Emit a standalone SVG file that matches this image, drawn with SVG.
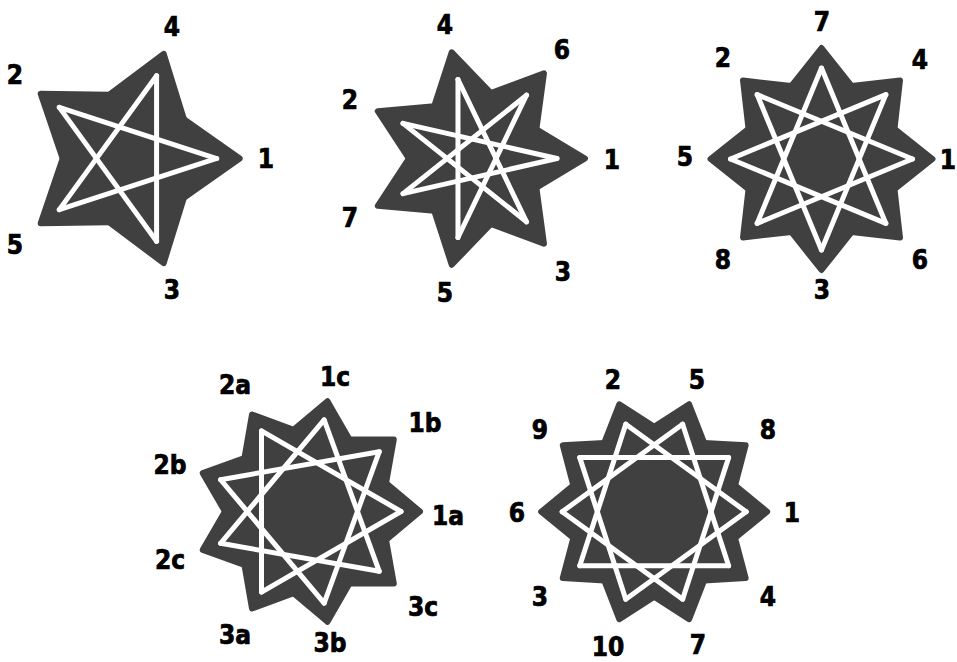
<svg xmlns="http://www.w3.org/2000/svg" xmlns:xlink="http://www.w3.org/1999/xlink" width="957" height="662" viewBox="0 0 957 662">
<style>
.dk{fill:#404040;stroke:#404040;stroke-width:6;stroke-linejoin:round}
.wl{stroke:#ffffff;stroke-width:5;stroke-linecap:round;fill:none}
.lb{font-family:"DejaVu Sans Condensed","DejaVu Sans",sans-serif;font-weight:bold;font-size:26px;fill:#000;stroke:#000;stroke-width:0.7;text-anchor:middle}
</style>
<defs>
<polygon id="k5" class="dk" points="0,0 54.2,-39.38 110,0 54.2,39.38"/>
<line id="c5" class="wl" x1="26.88" y1="-82.74" x2="26.88" y2="82.74"/>
<polygon id="k7" class="dk" points="0,0 60.37,-29.07 109,0 60.37,29.07"/>
<line id="c7" class="wl" x1="18.02" y1="-78.97" x2="18.02" y2="78.97"/>
<polygon id="k8" class="dk" points="0,0 72.99,-30.23 111,0 72.99,30.23"/>
<line id="c8" class="wl" x1="34.82" y1="-84.07" x2="34.82" y2="84.07"/>
<polygon id="k9" class="dk" points="0,0 78,-28.39 112,0 78,28.39"/>
<line id="c9" class="wl" x1="46.5" y1="-80.54" x2="46.5" y2="80.54"/>
<polygon id="k10" class="dk" points="0,0 80.84,-26.27 113,0 80.84,26.27"/>
<line id="c10" class="wl" x1="54.08" y1="-74.43" x2="54.08" y2="74.43"/>
</defs>

<g id="star5">
<g transform="translate(129.7,158.5)">
<use xlink:href="#k5"/><use xlink:href="#k5" transform="rotate(72)"/><use xlink:href="#k5" transform="rotate(144)"/><use xlink:href="#k5" transform="rotate(216)"/><use xlink:href="#k5" transform="rotate(288)"/>
<use xlink:href="#c5"/><use xlink:href="#c5" transform="rotate(72)"/><use xlink:href="#c5" transform="rotate(144)"/><use xlink:href="#c5" transform="rotate(216)"/><use xlink:href="#c5" transform="rotate(288)"/>
</g>
<text class="lb" x="172" y="36">4</text>
<text class="lb" x="15" y="84">2</text>
<text class="lb" x="266" y="168">1</text>
<text class="lb" x="15" y="254">5</text>
<text class="lb" x="172" y="299">3</text>
</g>

<g id="star7">
<g transform="translate(476,158.5)">
<use xlink:href="#k7"/><use xlink:href="#k7" transform="rotate(51.4286)"/><use xlink:href="#k7" transform="rotate(102.857)"/><use xlink:href="#k7" transform="rotate(154.286)"/><use xlink:href="#k7" transform="rotate(205.714)"/><use xlink:href="#k7" transform="rotate(257.143)"/><use xlink:href="#k7" transform="rotate(308.571)"/>
<use xlink:href="#c7" transform="rotate(25.714)"/><use xlink:href="#c7" transform="rotate(77.143)"/><use xlink:href="#c7" transform="rotate(128.571)"/><use xlink:href="#c7" transform="rotate(180)"/><use xlink:href="#c7" transform="rotate(231.429)"/><use xlink:href="#c7" transform="rotate(282.857)"/><use xlink:href="#c7" transform="rotate(334.286)"/>
</g>
<text class="lb" x="445" y="34">4</text>
<text class="lb" x="562" y="59">6</text>
<text class="lb" x="350" y="109">2</text>
<text class="lb" x="612" y="169">1</text>
<text class="lb" x="350" y="227">7</text>
<text class="lb" x="563" y="281">3</text>
<text class="lb" x="445" y="302">5</text>
</g>

<g id="star8">
<g transform="translate(821.5,159)">
<use xlink:href="#k8"/><use xlink:href="#k8" transform="rotate(45)"/><use xlink:href="#k8" transform="rotate(90)"/><use xlink:href="#k8" transform="rotate(135)"/><use xlink:href="#k8" transform="rotate(180)"/><use xlink:href="#k8" transform="rotate(225)"/><use xlink:href="#k8" transform="rotate(270)"/><use xlink:href="#k8" transform="rotate(315)"/>
<use xlink:href="#c8" transform="rotate(22.5)"/><use xlink:href="#c8" transform="rotate(67.5)"/><use xlink:href="#c8" transform="rotate(112.5)"/><use xlink:href="#c8" transform="rotate(157.5)"/><use xlink:href="#c8" transform="rotate(202.5)"/><use xlink:href="#c8" transform="rotate(247.5)"/><use xlink:href="#c8" transform="rotate(292.5)"/><use xlink:href="#c8" transform="rotate(337.5)"/>
</g>
<text class="lb" x="822" y="31">7</text>
<text class="lb" x="723" y="67">2</text>
<text class="lb" x="920" y="69">4</text>
<text class="lb" x="685" y="166">5</text>
<text class="lb" x="948" y="169">1</text>
<text class="lb" x="723" y="269">8</text>
<text class="lb" x="920" y="269">6</text>
<text class="lb" x="822" y="299">3</text>
</g>

<g id="star9">
<g transform="translate(308,511.5)">
<use xlink:href="#k9"/><use xlink:href="#k9" transform="rotate(40)"/><use xlink:href="#k9" transform="rotate(80)"/><use xlink:href="#k9" transform="rotate(120)"/><use xlink:href="#k9" transform="rotate(160)"/><use xlink:href="#k9" transform="rotate(200)"/><use xlink:href="#k9" transform="rotate(240)"/><use xlink:href="#k9" transform="rotate(280)"/><use xlink:href="#k9" transform="rotate(320)"/>
<use xlink:href="#c9" transform="rotate(20)"/><use xlink:href="#c9" transform="rotate(60)"/><use xlink:href="#c9" transform="rotate(100)"/><use xlink:href="#c9" transform="rotate(140)"/><use xlink:href="#c9" transform="rotate(180)"/><use xlink:href="#c9" transform="rotate(220)"/><use xlink:href="#c9" transform="rotate(260)"/><use xlink:href="#c9" transform="rotate(300)"/><use xlink:href="#c9" transform="rotate(340)"/>
</g>
<text class="lb" x="335" y="386">1c</text>
<text class="lb" x="235" y="394">2a</text>
<text class="lb" x="425" y="432">1b</text>
<text class="lb" x="170" y="474">2b</text>
<text class="lb" x="448" y="525">1a</text>
<text class="lb" x="170" y="569">2c</text>
<text class="lb" x="423" y="616">3c</text>
<text class="lb" x="235" y="644">3a</text>
<text class="lb" x="330" y="652">3b</text>
</g>

<g id="star10">
<g transform="translate(654.2,511.7)">
<use xlink:href="#k10"/><use xlink:href="#k10" transform="rotate(36)"/><use xlink:href="#k10" transform="rotate(72)"/><use xlink:href="#k10" transform="rotate(108)"/><use xlink:href="#k10" transform="rotate(144)"/><use xlink:href="#k10" transform="rotate(180)"/><use xlink:href="#k10" transform="rotate(216)"/><use xlink:href="#k10" transform="rotate(252)"/><use xlink:href="#k10" transform="rotate(288)"/><use xlink:href="#k10" transform="rotate(324)"/>
<use xlink:href="#c10" transform="rotate(18)"/><use xlink:href="#c10" transform="rotate(54)"/><use xlink:href="#c10" transform="rotate(90)"/><use xlink:href="#c10" transform="rotate(126)"/><use xlink:href="#c10" transform="rotate(162)"/><use xlink:href="#c10" transform="rotate(198)"/><use xlink:href="#c10" transform="rotate(234)"/><use xlink:href="#c10" transform="rotate(270)"/><use xlink:href="#c10" transform="rotate(306)"/><use xlink:href="#c10" transform="rotate(342)"/>
</g>
<text class="lb" x="613" y="389">2</text>
<text class="lb" x="697" y="389">5</text>
<text class="lb" x="540" y="439">9</text>
<text class="lb" x="768" y="439">8</text>
<text class="lb" x="517" y="522">6</text>
<text class="lb" x="792" y="522">1</text>
<text class="lb" x="540" y="606">3</text>
<text class="lb" x="768" y="606">4</text>
<text class="lb" x="608" y="656">10</text>
<text class="lb" x="698" y="654">7</text>
</g>
</svg>
